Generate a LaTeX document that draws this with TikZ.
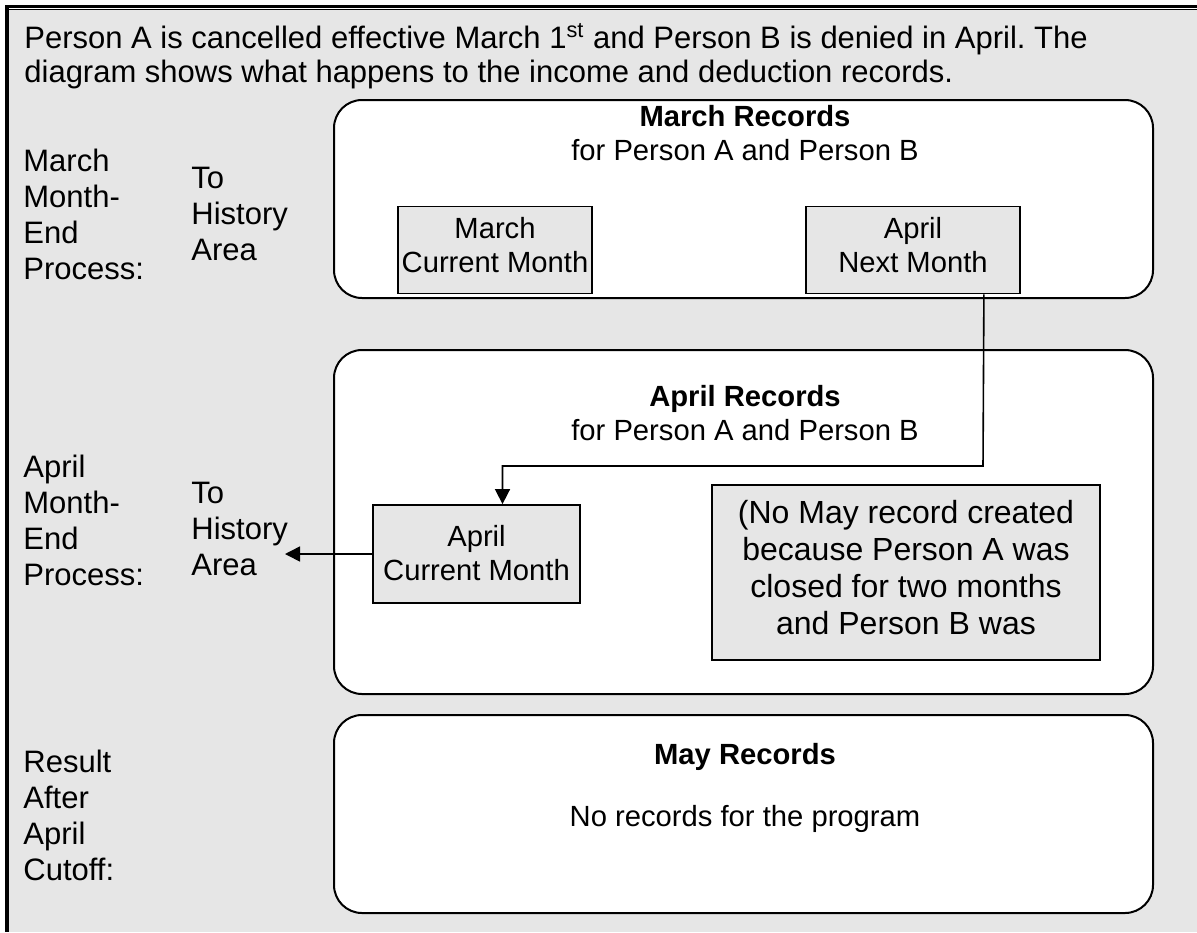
\documentclass[tikz,border=0pt]{standalone}
\usepackage{fontspec}
\setmainfont{Liberation Sans}
\usetikzlibrary{fit,arrows.meta}
\definecolor{bggray}{HTML}{E6E6E6}
\frenchspacing
\tikzset{
  txt/.style={inner sep=0pt, anchor=north west, align=left,
    font=\fontsize{14.6}{17}\selectfont, execute at begin node=\strut},
  ctxt/.style={txt, anchor=north, align=center},
  introtxt/.style={txt, font=\fontsize{15.5}{17}\selectfont},
  lbl/.style={txt, font=\fontsize{15.5}{18}\selectfont},
  notetext/.style={ctxt, font=\fontsize{16}{18.5}\selectfont},
  rbox/.style={draw, line width=1pt, fill=white, rounded corners=14pt, inner sep=0pt},
  gbox/.style={draw, line width=0.9pt, fill=bggray, inner sep=0pt},
  arr/.style={line width=0.8pt, -{Triangle[length=7.5pt,width=7.5pt]}},
}
\begin{document}
\begin{tikzpicture}[x=0.5pt,y=-0.5pt]
\useasboundingbox (0,0) rectangle (1197,932);
% page frame
\fill[bggray] (9,9) rectangle (1197,932);
\draw[line width=1.5pt] (5,6) -- (1197,6);
\draw[line width=0.5pt] (9,9.5) -- (1197,9.5);
\draw[line width=2pt] (7,6) -- (7,932);

% intro
\node[introtxt] (intro) at (24,23.2) {Person A is cancelled effective March 1\textsuperscript{st} and Person B is denied in April. The\\diagram shows what happens to the income and deduction records.};

% left labels
\node[lbl] (lab1) at (23,148.8) {March\\Month-\\End\\Process:};
\node[lbl] (hist1) at (191,166.8) {To\\History\\Area};
\node[lbl] (lab2) at (23,454.8) {April\\Month-\\End\\Process:};
\node[lbl] (hist2) at (191,481.8) {To\\History\\Area};
\node[lbl] (lab3) at (23,749.8) {Result\\After\\April\\Cutoff:};

% March records
\node[rbox, fit={(334,100) (1153,298)}] (marbox) {};
\node[ctxt] (martitle) at (745,105.2) {\textbf{March Records}\\for Person A and Person B};
\node[gbox, fit={(398,206.5) (592,293.5)}] (mcm) {};
\node[ctxt] (mcmtxt) at (495,217.2) {March\\Current Month};
\node[gbox, fit={(806,206.5) (1020,293.5)}] (anm) {};
\node[ctxt] (anmtxt) at (913,217.2) {April\\Next Month};

% April records
\node[rbox, fit={(334,350) (1153,694)}] (aprbox) {};
\node[ctxt] (aprtitle) at (745,385.2) {\textbf{April Records}\\for Person A and Person B};
\node[gbox, fit={(373,505) (580,603)}] (acm) {};
\node[ctxt] (acmtxt) at (476.5,525.2) {April\\Current Month};
\node[gbox, fit={(712,485) (1100,660)}] (note) {};
\node[notetext] (notetxt) at (906,500.1) {(No May record created\\because Person A was\\closed for two months\\and Person B was};

% May records
\node[rbox, fit={(334,715) (1153,913)}] (maybox) {};
\node[ctxt] (maytitle) at (745,740.2) {\textbf{May Records}};
\node[ctxt] (maytxt) at (745,802.2) {No records for the program};

% connectors
\coordinate (turn) at (983,466);
\draw[arr] ([xshift=-18.5pt]anm.south east) -- (turn) -| ([xshift=13pt]acm.north);
\coordinate (histend) at (285,554);
\draw[arr] (acm.west) -- (histend);
\end{tikzpicture}
\end{document}
